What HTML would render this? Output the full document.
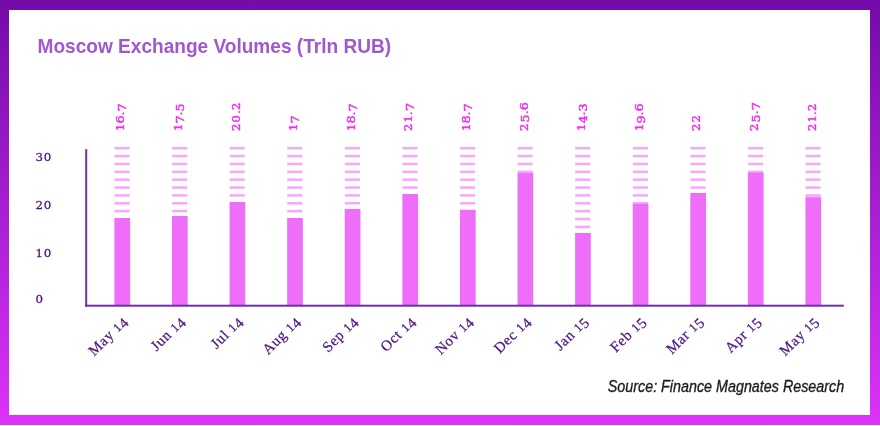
<!DOCTYPE html>
<html lang="en"><head><meta charset="utf-8"><title>Moscow Exchange Volumes</title>
<style>
html,body{margin:0;padding:0;background:#fff;}
body{width:880px;height:426px;overflow:hidden;}
svg{display:block;}
.title{font-family:"Liberation Sans",sans-serif;font-weight:bold;font-size:20.4px;fill:#A058CC;}
.val{font-family:"DejaVu Serif","Liberation Serif",serif;font-size:11.8px;fill:#F02DF0;stroke:#F02DF0;stroke-width:0.45px;}
.yl{font-family:"DejaVu Serif","Liberation Serif",serif;font-size:11.8px;fill:#4B1482;stroke:#4B1482;stroke-width:0.3px;letter-spacing:0.8px;}
.xl{font-family:"Liberation Serif",serif;font-size:14.8px;letter-spacing:0.65px;fill:#4B1482;stroke:#4B1482;stroke-width:0.25px;}
.src{font-family:"Liberation Sans",sans-serif;font-style:italic;font-size:17.2px;fill:#1c1c1c;stroke:#1c1c1c;stroke-width:0.35px;}
</style></head><body>
<svg width="880" height="426" viewBox="0 0 880 426">
<defs><linearGradient id="g" x1="0" y1="0" x2="0" y2="1"><stop offset="0" stop-color="#720CA8"/><stop offset="1" stop-color="#DD33FA"/></linearGradient></defs>
<rect x="0" y="0" width="880" height="425" fill="url(#g)"/>
<rect x="0" y="425" width="880" height="1" fill="#fff"/>
<rect x="9" y="10" width="861" height="405" fill="#fff"/>
<text class="title" x="37.6" y="52.7" textLength="353.5" lengthAdjust="spacingAndGlyphs">Moscow Exchange Volumes (Trln RUB)</text>

<rect x="114.50" y="147.00" width="15.10" height="2.50" fill="#F5A9FB"/>
<rect x="114.50" y="154.86" width="15.10" height="2.50" fill="#F5A9FB"/>
<rect x="114.50" y="162.72" width="15.10" height="2.50" fill="#F5A9FB"/>
<rect x="114.50" y="170.58" width="15.10" height="2.50" fill="#F5A9FB"/>
<rect x="114.50" y="178.44" width="15.10" height="2.50" fill="#F5A9FB"/>
<rect x="114.50" y="186.30" width="15.10" height="2.50" fill="#F5A9FB"/>
<rect x="114.50" y="194.16" width="15.10" height="2.50" fill="#F5A9FB"/>
<rect x="114.50" y="202.02" width="15.10" height="2.50" fill="#F5A9FB"/>
<rect x="114.50" y="209.88" width="15.10" height="2.50" fill="#F5A9FB"/>
<rect x="114.40" y="218.00" width="15.70" height="87.50" fill="#EE6EFA"/>
<text class="val" transform="translate(124.45,130.9) rotate(-90) scale(1.08,1)"><tspan font-size="10.6">1</tspan><tspan>6</tspan>.<tspan dy="1.90">7</tspan></text>
<text class="xl" text-anchor="end" transform="translate(128.55,322.2) rotate(-45)">May <tspan font-size="12.6">1</tspan><tspan dy="2.00">4</tspan></text>
<rect x="172.09" y="147.00" width="15.10" height="2.50" fill="#F5A9FB"/>
<rect x="172.09" y="154.86" width="15.10" height="2.50" fill="#F5A9FB"/>
<rect x="172.09" y="162.72" width="15.10" height="2.50" fill="#F5A9FB"/>
<rect x="172.09" y="170.58" width="15.10" height="2.50" fill="#F5A9FB"/>
<rect x="172.09" y="178.44" width="15.10" height="2.50" fill="#F5A9FB"/>
<rect x="172.09" y="186.30" width="15.10" height="2.50" fill="#F5A9FB"/>
<rect x="172.09" y="194.16" width="15.10" height="2.50" fill="#F5A9FB"/>
<rect x="172.09" y="202.02" width="15.10" height="2.50" fill="#F5A9FB"/>
<rect x="172.09" y="209.88" width="15.10" height="2.50" fill="#F5A9FB"/>
<rect x="171.99" y="216.00" width="15.70" height="89.50" fill="#EE6EFA"/>
<text class="val" transform="translate(182.04,130.9) rotate(-90) scale(1.08,1)"><tspan font-size="10.6">1</tspan><tspan dy="1.90">7</tspan><tspan dy="-1.90">.</tspan><tspan dy="1.90">5</tspan></text>
<text class="xl" text-anchor="end" transform="translate(186.14,322.2) rotate(-45)">Jun <tspan font-size="12.6">1</tspan><tspan dy="2.00">4</tspan></text>
<rect x="229.68" y="147.00" width="15.10" height="2.50" fill="#F5A9FB"/>
<rect x="229.68" y="154.86" width="15.10" height="2.50" fill="#F5A9FB"/>
<rect x="229.68" y="162.72" width="15.10" height="2.50" fill="#F5A9FB"/>
<rect x="229.68" y="170.58" width="15.10" height="2.50" fill="#F5A9FB"/>
<rect x="229.68" y="178.44" width="15.10" height="2.50" fill="#F5A9FB"/>
<rect x="229.68" y="186.30" width="15.10" height="2.50" fill="#F5A9FB"/>
<rect x="229.68" y="194.16" width="15.10" height="2.50" fill="#F5A9FB"/>
<rect x="229.58" y="202.00" width="15.70" height="103.50" fill="#EE6EFA"/>
<text class="val" transform="translate(239.63,130.9) rotate(-90) scale(1.08,1)"><tspan font-size="10.6" letter-spacing="1.1">2</tspan><tspan font-size="10.6" letter-spacing="1.1">0</tspan>.<tspan font-size="10.6" letter-spacing="1.1">2</tspan></text>
<text class="xl" text-anchor="end" transform="translate(243.73,322.2) rotate(-45)">Jul <tspan font-size="12.6">1</tspan><tspan dy="2.00">4</tspan></text>
<rect x="287.27" y="147.00" width="15.10" height="2.50" fill="#F5A9FB"/>
<rect x="287.27" y="154.86" width="15.10" height="2.50" fill="#F5A9FB"/>
<rect x="287.27" y="162.72" width="15.10" height="2.50" fill="#F5A9FB"/>
<rect x="287.27" y="170.58" width="15.10" height="2.50" fill="#F5A9FB"/>
<rect x="287.27" y="178.44" width="15.10" height="2.50" fill="#F5A9FB"/>
<rect x="287.27" y="186.30" width="15.10" height="2.50" fill="#F5A9FB"/>
<rect x="287.27" y="194.16" width="15.10" height="2.50" fill="#F5A9FB"/>
<rect x="287.27" y="202.02" width="15.10" height="2.50" fill="#F5A9FB"/>
<rect x="287.27" y="209.88" width="15.10" height="2.50" fill="#F5A9FB"/>
<rect x="287.17" y="218.00" width="15.70" height="87.50" fill="#EE6EFA"/>
<text class="val" transform="translate(297.22,130.9) rotate(-90) scale(1.08,1)"><tspan font-size="10.6">1</tspan><tspan dy="1.90">7</tspan></text>
<text class="xl" text-anchor="end" transform="translate(301.32,322.2) rotate(-45)">Aug <tspan font-size="12.6">1</tspan><tspan dy="2.00">4</tspan></text>
<rect x="344.86" y="147.00" width="15.10" height="2.50" fill="#F5A9FB"/>
<rect x="344.86" y="154.86" width="15.10" height="2.50" fill="#F5A9FB"/>
<rect x="344.86" y="162.72" width="15.10" height="2.50" fill="#F5A9FB"/>
<rect x="344.86" y="170.58" width="15.10" height="2.50" fill="#F5A9FB"/>
<rect x="344.86" y="178.44" width="15.10" height="2.50" fill="#F5A9FB"/>
<rect x="344.86" y="186.30" width="15.10" height="2.50" fill="#F5A9FB"/>
<rect x="344.86" y="194.16" width="15.10" height="2.50" fill="#F5A9FB"/>
<rect x="344.86" y="202.02" width="15.10" height="2.50" fill="#F5A9FB"/>
<rect x="344.76" y="209.00" width="15.70" height="96.50" fill="#EE6EFA"/>
<text class="val" transform="translate(354.81,130.9) rotate(-90) scale(1.08,1)"><tspan font-size="10.6">1</tspan><tspan>8</tspan>.<tspan dy="1.90">7</tspan></text>
<text class="xl" text-anchor="end" transform="translate(358.91,322.2) rotate(-45)">Sep <tspan font-size="12.6">1</tspan><tspan dy="2.00">4</tspan></text>
<rect x="402.45" y="147.00" width="15.10" height="2.50" fill="#F5A9FB"/>
<rect x="402.45" y="154.86" width="15.10" height="2.50" fill="#F5A9FB"/>
<rect x="402.45" y="162.72" width="15.10" height="2.50" fill="#F5A9FB"/>
<rect x="402.45" y="170.58" width="15.10" height="2.50" fill="#F5A9FB"/>
<rect x="402.45" y="178.44" width="15.10" height="2.50" fill="#F5A9FB"/>
<rect x="402.45" y="186.30" width="15.10" height="2.50" fill="#F5A9FB"/>
<rect x="402.35" y="194.00" width="15.70" height="111.50" fill="#EE6EFA"/>
<text class="val" transform="translate(412.40,130.9) rotate(-90) scale(1.08,1)"><tspan font-size="10.6" letter-spacing="1.1">2</tspan><tspan font-size="10.6">1</tspan>.<tspan dy="1.90">7</tspan></text>
<text class="xl" text-anchor="end" transform="translate(416.50,322.2) rotate(-45)">Oct <tspan font-size="12.6">1</tspan><tspan dy="2.00">4</tspan></text>
<rect x="460.04" y="147.00" width="15.10" height="2.50" fill="#F5A9FB"/>
<rect x="460.04" y="154.86" width="15.10" height="2.50" fill="#F5A9FB"/>
<rect x="460.04" y="162.72" width="15.10" height="2.50" fill="#F5A9FB"/>
<rect x="460.04" y="170.58" width="15.10" height="2.50" fill="#F5A9FB"/>
<rect x="460.04" y="178.44" width="15.10" height="2.50" fill="#F5A9FB"/>
<rect x="460.04" y="186.30" width="15.10" height="2.50" fill="#F5A9FB"/>
<rect x="460.04" y="194.16" width="15.10" height="2.50" fill="#F5A9FB"/>
<rect x="460.04" y="202.02" width="15.10" height="2.50" fill="#F5A9FB"/>
<rect x="459.94" y="209.75" width="15.70" height="95.75" fill="#EE6EFA"/>
<text class="val" transform="translate(469.99,130.9) rotate(-90) scale(1.08,1)"><tspan font-size="10.6">1</tspan><tspan>8</tspan>.<tspan dy="1.90">7</tspan></text>
<text class="xl" text-anchor="end" transform="translate(474.09,322.2) rotate(-45)">Nov <tspan font-size="12.6">1</tspan><tspan dy="2.00">4</tspan></text>
<rect x="517.63" y="147.00" width="15.10" height="2.50" fill="#F5A9FB"/>
<rect x="517.63" y="154.86" width="15.10" height="2.50" fill="#F5A9FB"/>
<rect x="517.63" y="162.72" width="15.10" height="2.50" fill="#F5A9FB"/>
<rect x="517.63" y="170.58" width="15.10" height="2.50" fill="#F5A9FB"/>
<rect x="517.53" y="172.90" width="15.70" height="132.60" fill="#EE6EFA"/>
<text class="val" transform="translate(527.58,130.9) rotate(-90) scale(1.08,1)"><tspan font-size="10.6" letter-spacing="1.1">2</tspan><tspan dy="1.90">5</tspan><tspan dy="-1.90">.</tspan><tspan>6</tspan></text>
<text class="xl" text-anchor="end" transform="translate(531.68,322.2) rotate(-45)">Dec <tspan font-size="12.6">1</tspan><tspan dy="2.00">4</tspan></text>
<rect x="575.22" y="147.00" width="15.10" height="2.50" fill="#F5A9FB"/>
<rect x="575.22" y="154.86" width="15.10" height="2.50" fill="#F5A9FB"/>
<rect x="575.22" y="162.72" width="15.10" height="2.50" fill="#F5A9FB"/>
<rect x="575.22" y="170.58" width="15.10" height="2.50" fill="#F5A9FB"/>
<rect x="575.22" y="178.44" width="15.10" height="2.50" fill="#F5A9FB"/>
<rect x="575.22" y="186.30" width="15.10" height="2.50" fill="#F5A9FB"/>
<rect x="575.22" y="194.16" width="15.10" height="2.50" fill="#F5A9FB"/>
<rect x="575.22" y="202.02" width="15.10" height="2.50" fill="#F5A9FB"/>
<rect x="575.22" y="209.88" width="15.10" height="2.50" fill="#F5A9FB"/>
<rect x="575.22" y="217.74" width="15.10" height="2.50" fill="#F5A9FB"/>
<rect x="575.22" y="225.60" width="15.10" height="2.50" fill="#F5A9FB"/>
<rect x="575.12" y="233.00" width="15.70" height="72.50" fill="#EE6EFA"/>
<text class="val" transform="translate(585.17,130.9) rotate(-90) scale(1.08,1)"><tspan font-size="10.6">1</tspan><tspan dy="1.90">4</tspan><tspan dy="-1.90">.</tspan><tspan dy="1.90">3</tspan></text>
<text class="xl" text-anchor="end" transform="translate(589.27,322.2) rotate(-45)">Jan <tspan font-size="12.6">1</tspan><tspan dy="2.00">5</tspan></text>
<rect x="632.81" y="147.00" width="15.10" height="2.50" fill="#F5A9FB"/>
<rect x="632.81" y="154.86" width="15.10" height="2.50" fill="#F5A9FB"/>
<rect x="632.81" y="162.72" width="15.10" height="2.50" fill="#F5A9FB"/>
<rect x="632.81" y="170.58" width="15.10" height="2.50" fill="#F5A9FB"/>
<rect x="632.81" y="178.44" width="15.10" height="2.50" fill="#F5A9FB"/>
<rect x="632.81" y="186.30" width="15.10" height="2.50" fill="#F5A9FB"/>
<rect x="632.81" y="194.16" width="15.10" height="2.50" fill="#F5A9FB"/>
<rect x="632.81" y="202.02" width="15.10" height="2.50" fill="#F5A9FB"/>
<rect x="632.71" y="203.75" width="15.70" height="101.75" fill="#EE6EFA"/>
<text class="val" transform="translate(642.76,130.9) rotate(-90) scale(1.08,1)"><tspan font-size="10.6">1</tspan><tspan dy="1.90">9</tspan><tspan dy="-1.90">.</tspan><tspan>6</tspan></text>
<text class="xl" text-anchor="end" transform="translate(646.86,322.2) rotate(-45)">Feb <tspan font-size="12.6">1</tspan><tspan dy="2.00">5</tspan></text>
<rect x="690.40" y="147.00" width="15.10" height="2.50" fill="#F5A9FB"/>
<rect x="690.40" y="154.86" width="15.10" height="2.50" fill="#F5A9FB"/>
<rect x="690.40" y="162.72" width="15.10" height="2.50" fill="#F5A9FB"/>
<rect x="690.40" y="170.58" width="15.10" height="2.50" fill="#F5A9FB"/>
<rect x="690.40" y="178.44" width="15.10" height="2.50" fill="#F5A9FB"/>
<rect x="690.40" y="186.30" width="15.10" height="2.50" fill="#F5A9FB"/>
<rect x="690.30" y="193.00" width="15.70" height="112.50" fill="#EE6EFA"/>
<text class="val" transform="translate(700.35,130.9) rotate(-90) scale(1.08,1)"><tspan font-size="10.6" letter-spacing="1.1">2</tspan><tspan font-size="10.6" letter-spacing="1.1">2</tspan></text>
<text class="xl" text-anchor="end" transform="translate(704.45,322.2) rotate(-45)">Mar <tspan font-size="12.6">1</tspan><tspan dy="2.00">5</tspan></text>
<rect x="747.99" y="147.00" width="15.10" height="2.50" fill="#F5A9FB"/>
<rect x="747.99" y="154.86" width="15.10" height="2.50" fill="#F5A9FB"/>
<rect x="747.99" y="162.72" width="15.10" height="2.50" fill="#F5A9FB"/>
<rect x="747.99" y="170.58" width="15.10" height="2.50" fill="#F5A9FB"/>
<rect x="747.89" y="172.60" width="15.70" height="132.90" fill="#EE6EFA"/>
<text class="val" transform="translate(757.94,130.9) rotate(-90) scale(1.08,1)"><tspan font-size="10.6" letter-spacing="1.1">2</tspan><tspan dy="1.90">5</tspan><tspan dy="-1.90">.</tspan><tspan dy="1.90">7</tspan></text>
<text class="xl" text-anchor="end" transform="translate(762.04,322.2) rotate(-45)">Apr <tspan font-size="12.6">1</tspan><tspan dy="2.00">5</tspan></text>
<rect x="805.58" y="147.00" width="15.10" height="2.50" fill="#F5A9FB"/>
<rect x="805.58" y="154.86" width="15.10" height="2.50" fill="#F5A9FB"/>
<rect x="805.58" y="162.72" width="15.10" height="2.50" fill="#F5A9FB"/>
<rect x="805.58" y="170.58" width="15.10" height="2.50" fill="#F5A9FB"/>
<rect x="805.58" y="178.44" width="15.10" height="2.50" fill="#F5A9FB"/>
<rect x="805.58" y="186.30" width="15.10" height="2.50" fill="#F5A9FB"/>
<rect x="805.58" y="194.16" width="15.10" height="3.04" fill="#F5A9FB"/>
<rect x="805.48" y="197.20" width="15.70" height="108.30" fill="#EE6EFA"/>
<text class="val" transform="translate(815.53,130.9) rotate(-90) scale(1.08,1)"><tspan font-size="10.6" letter-spacing="1.1">2</tspan><tspan font-size="10.6">1</tspan>.<tspan font-size="10.6" letter-spacing="1.1">2</tspan></text>
<text class="xl" text-anchor="end" transform="translate(819.63,322.2) rotate(-45)">May <tspan font-size="12.6">1</tspan><tspan dy="2.00">5</tspan></text>
<rect x="85.2" y="149.2" width="2" height="157.5" fill="#7030A0"/>
<rect x="85.2" y="304.7" width="758.6" height="2" fill="#7030A0"/>
<text class="yl" x="35.5" y="160.7">30</text>
<text class="yl" x="35.5" y="209">20</text>
<text class="yl" x="35.5" y="256.5">10</text>
<text class="yl" x="35.5" y="302.5">0</text>
<text class="src" x="607.8" y="392.4" textLength="236.4" lengthAdjust="spacingAndGlyphs">Source: Finance Magnates Research</text>
</svg></body></html>
